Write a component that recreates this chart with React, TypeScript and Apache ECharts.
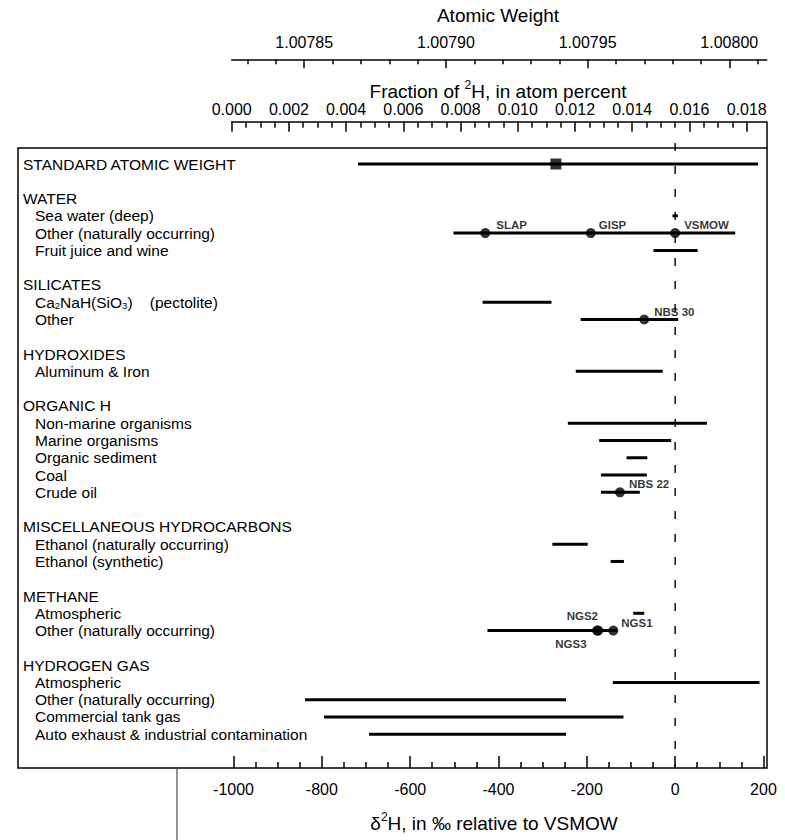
import React, { useEffect, useRef } from 'react';
import * as echarts from 'echarts';

// ---------- data ----------
const rowLabels = [
  'STANDARD ATOMIC WEIGHT', '',
  'WATER', 'Sea water (deep)', 'Other (naturally occurring)', 'Fruit juice and wine', '',
  'SILICATES', 'Ca_2NaH(SiO_3)    (pectolite)', 'Other', '',
  'HYDROXIDES', 'Aluminum & Iron', '',
  'ORGANIC H', 'Non-marine organisms', 'Marine organisms', 'Organic sediment', 'Coal', 'Crude oil', '',
  'MISCELLANEOUS HYDROCARBONS', 'Ethanol (naturally occurring)', 'Ethanol (synthetic)', '',
  'METHANE', 'Atmospheric', 'Other (naturally occurring)', '',
  'HYDROGEN GAS', 'Atmospheric', 'Other (naturally occurring)', 'Commercial tank gas',
  'Auto exhaust & industrial contamination',
];

// ranges in delta 2H (per mil vs VSMOW)
const rangeRow = [0, 3, 4, 5, 8, 9, 12, 15, 16, 17, 18, 19, 22, 23, 26, 27, 30, 31, 32, 33];
const rangeLow = [-718, -6, -502, -49, -436, -214, -225, -243, -172, -110, -168, -168, -278, -146, -95, -425, -141, -838, -795, -693];
const rangeHigh = [188, 6, 136, 51, -280, 7, -28, 72, -9, -63, -64, -80, -198, -116, -70, -131, 191, -247, -117, -247];

// reference materials
const refNames = ['SLAP', 'GISP', 'VSMOW', 'NBS 30', 'NBS 22', 'NGS2', 'NGS3', 'NGS1'];
const refRow = [4, 4, 4, 9, 19, 27, 27, 27];
const refDelta = [-430, -191, 0, -70, -125, -174, -177, -140];

// standard atomic weight marker
const stdRow = [0];
const stdDelta = [-270];

const vsmowLine = [0];

// axis ticks
const deltaMajor = [-1000, -800, -600, -400, -200, 0, 200];
const deltaMinor = [-950, -900, -850, -750, -700, -650, -550, -500, -450, -350, -300, -250, -150, -100, -50, 50, 100, 150];
const fracMajor = [0, 0.002, 0.004, 0.006, 0.008, 0.01, 0.012, 0.014, 0.016, 0.018];
const fracMinor = [0.0005, 0.001, 0.0015, 0.0025, 0.003, 0.0035, 0.0045, 0.005, 0.0055, 0.0065, 0.007, 0.0075,
  0.0085, 0.009, 0.0095, 0.0105, 0.011, 0.0115, 0.0125, 0.013, 0.0135, 0.0145, 0.015, 0.0155, 0.0165, 0.017, 0.0175];
const awMajor = [1.00785, 1.0079, 1.00795, 1.008];
const awMinor = [1.00783, 1.00784, 1.00786, 1.00787, 1.00788, 1.00789, 1.00791, 1.00792, 1.00793, 1.00794,
  1.00796, 1.00797, 1.00798, 1.00799, 1.00801];

// axis extents
const D_MIN = -1488;
const D_MAX = 208;
const FRAC_MIN = 0;
const FRAC_MAX = 0.0187;
const AW_MIN = 1.0078244;
const AW_MAX = 1.0080132;

// ---------- styles ----------
const FONT = '"Liberation Sans", Arial, Helvetica, sans-serif';
const BLACK = '#000';

const labelStyle: Record<string, any> = {
  'SLAP': { align: 'left', offset: [11, -8] },
  'GISP': { align: 'left', offset: [8, -8] },
  'VSMOW': { align: 'left', offset: [9, -8] },
  'NBS 30': { align: 'left', offset: [10, -8] },
  'NBS 22': { align: 'left', offset: [9, -8] },
  'NGS1': { align: 'left', offset: [8, -8] },
  'NGS2': { align: 'center', offset: [-16, -15] },
  'NGS3': { align: 'center', offset: [-26, 13] },
};

const isHeader = (s: string) => s !== '' && /[A-Z]/.test(s) && s === s.toUpperCase();

function toRich(label: string): string {
  if (!label) return '';
  const base = isHeader(label) ? 'h' : 's';
  const parts = label.split(/_(\d)/);
  let out = '';
  parts.forEach((p, i) => {
    if (p === '') return;
    if (i % 2 === 1) {
      out += `{sub|${p}}`;
    } else if (i === 0) {
      out += `{${base}|${p}}`;
    } else if (/^\s{2,}/.test(p)) {
      out += `{tg|${p.trim()}}`;
    } else {
      out += `{t|${p}}`;
    }
  });
  return out;
}

const catFont = { fontSize: 15.5, fontFamily: FONT, color: '#000', lineHeight: 17 };

export default function App() {
  const ref = useRef<HTMLDivElement>(null);

  useEffect(() => {
    if (!ref.current) return;
    const chart = echarts.init(ref.current, undefined, { renderer: 'svg' });

    const tickLabel = { fontSize: 16, fontFamily: FONT, color: BLACK };

    const option: any = {
      animation: false,
      backgroundColor: '#fff',
      grid: [
        { left: 18, right: 18, top: 148, bottom: 72, show: true, borderColor: BLACK, borderWidth: 1.5,
          backgroundColor: 'transparent', outerBoundsMode: 'none' },
        { left: 18, right: 18, top: 155.36, bottom: 97.1, outerBoundsMode: 'none' },
        { left: 231.7, right: 18.3, top: 121.7, height: 20, outerBoundsMode: 'none' },
        { left: 231.7, right: 18.3, top: 59.3, height: 20, outerBoundsMode: 'none' },
      ],
      xAxis: [
        { gridIndex: 0, type: 'value', min: D_MIN, max: D_MAX, show: false },
        {
          gridIndex: 1, type: 'value', min: D_MIN, max: D_MAX, position: 'bottom', offset: 25.1,
          axisLine: { show: false, onZero: false },
          axisTick: { show: true, inside: true, length: 12, customValues: deltaMajor, lineStyle: { color: BLACK, width: 1.5 } },
          axisLabel: { show: true, customValues: deltaMajor, margin: 13, formatter: (v: number) => String(v), ...tickLabel },
          splitLine: { show: false },
        },
        {
          gridIndex: 1, type: 'value', min: D_MIN, max: D_MAX, position: 'bottom', offset: 25.1,
          axisLine: { show: false, onZero: false },
          axisTick: { show: true, inside: true, length: 6, customValues: deltaMinor, lineStyle: { color: BLACK, width: 1.5 } },
          axisLabel: { show: false },
          splitLine: { show: false },
        },
        {
          gridIndex: 2, type: 'value', min: FRAC_MIN, max: FRAC_MAX, position: 'top',
          axisLine: { show: true, onZero: false, lineStyle: { color: BLACK, width: 1.5 } },
          axisTick: { show: true, inside: true, length: 10, customValues: fracMajor, lineStyle: { color: BLACK, width: 1.5 } },
          axisLabel: { show: true, customValues: fracMajor, margin: 4.5, formatter: (v: number) => v.toFixed(3), ...tickLabel },
          splitLine: { show: false },
        },
        {
          gridIndex: 2, type: 'value', min: FRAC_MIN, max: FRAC_MAX, position: 'top',
          axisLine: { show: false, onZero: false },
          axisTick: { show: true, inside: true, length: 6, customValues: fracMinor, lineStyle: { color: BLACK, width: 1.5 } },
          axisLabel: { show: false },
          splitLine: { show: false },
        },
        {
          gridIndex: 3, type: 'value', min: AW_MIN, max: AW_MAX, position: 'top',
          axisLine: { show: true, onZero: false, lineStyle: { color: BLACK, width: 1.5 } },
          axisTick: { show: true, inside: true, length: 9, customValues: awMajor, lineStyle: { color: BLACK, width: 1.5 } },
          axisLabel: { show: true, customValues: awMajor, margin: 9, formatter: (v: number) => v.toFixed(5), ...tickLabel },
          splitLine: { show: false },
        },
        {
          gridIndex: 3, type: 'value', min: AW_MIN, max: AW_MAX, position: 'top',
          axisLine: { show: false, onZero: false },
          axisTick: { show: true, inside: true, length: 5, customValues: awMinor, lineStyle: { color: BLACK, width: 1.5 } },
          axisLabel: { show: false },
          splitLine: { show: false },
        },
      ],
      yAxis: [
        { gridIndex: 0, type: 'value', min: 0, max: 1, show: false },
        {
          gridIndex: 1, type: 'category', inverse: true, data: rowLabels, boundaryGap: true,
          axisLine: { show: false }, axisTick: { show: false }, splitLine: { show: false },
          axisLabel: {
            show: true, inside: true, interval: 0, margin: 5, align: 'left',
            formatter: (_v: string, idx: number) => toRich(rowLabels[idx]),
            rich: {
              h: { ...catFont },
              s: { ...catFont, padding: [0, 0, 0, 12] },
              t: { ...catFont },
              tg: { ...catFont, padding: [0, 0, 0, 17] },
              sub: { fontSize: 9.5, fontFamily: FONT, color: '#000', lineHeight: 5, padding: [7, 0, 0, 0] },
            },
          },
        },
        { gridIndex: 2, type: 'value', min: 0, max: 1, show: false },
        { gridIndex: 3, type: 'value', min: 0, max: 1, show: false },
      ],
      series: [
        {
          type: 'custom', xAxisIndex: 0, yAxisIndex: 0, silent: true, z: 1,
          data: vsmowLine.map((d) => [d, 0]),
          renderItem: (_p: any, api: any) => {
            const top = api.coord([api.value(0), 1]);
            const bot = api.coord([api.value(0), 0]);
            return {
              type: 'line',
              shape: { x1: top[0], y1: top[1] - 5, x2: bot[0], y2: bot[1] },
              style: { stroke: BLACK, lineWidth: 1.4, lineDash: [8, 15] },
            };
          },
        },
        {
          type: 'custom', xAxisIndex: 1, yAxisIndex: 1, silent: true, z: 2,
          encode: { x: [0, 1], y: 2 },
          data: rangeRow.map((r, i) => [rangeLow[i], rangeHigh[i], r]),
          renderItem: (_p: any, api: any) => {
            const a = api.coord([api.value(0), api.value(2)]);
            const b = api.coord([api.value(1), api.value(2)]);
            return {
              type: 'line',
              shape: { x1: a[0], y1: a[1], x2: b[0], y2: b[1] },
              style: { stroke: BLACK, lineWidth: 3 },
            };
          },
        },
        {
          type: 'scatter', xAxisIndex: 1, yAxisIndex: 1, z: 3, silent: true,
          symbol: 'circle', symbolSize: 10,
          itemStyle: { color: BLACK },
          data: refNames.map((n, i) => ({
            name: n,
            value: [refDelta[i], refRow[i]],
            label: {
              show: true, position: 'inside', formatter: n,
              fontSize: 11.5, fontWeight: 'bold', fontFamily: FONT, color: BLACK,
              verticalAlign: 'middle',
              ...labelStyle[n],
            },
          })),
        },
        {
          type: 'scatter', xAxisIndex: 1, yAxisIndex: 1, z: 3, silent: true,
          symbol: 'rect', symbolSize: 11,
          itemStyle: { color: BLACK },
          data: stdDelta.map((d, i) => [d, stdRow[i]]),
        },
      ],
      graphic: [
        {
          type: 'text', x: 498, y: 15,
          style: { text: 'Atomic Weight', fontSize: 19, fontFamily: FONT, fill: BLACK, align: 'center', verticalAlign: 'middle' },
        },
        {
          type: 'text', x: 498, y: 91,
          style: {
            text: '{t|Fraction of }{sup|2}{t|H, in atom percent}',
            align: 'center', verticalAlign: 'middle',
            rich: {
              t: { fontSize: 19, fontFamily: FONT, fill: BLACK, lineHeight: 24 },
              sup: { fontSize: 12, fontFamily: FONT, fill: BLACK, lineHeight: 12, verticalAlign: 'top' },
            },
          },
        },
        {
          type: 'text', x: 494, y: 823,
          style: {
            text: '{t|\u03b4}{sup|2}{t|H, in \u2030 relative to VSMOW}',
            align: 'center', verticalAlign: 'middle',
            rich: {
              t: { fontSize: 19, fontFamily: FONT, fill: BLACK, lineHeight: 24 },
              sup: { fontSize: 12, fontFamily: FONT, fill: BLACK, lineHeight: 12, verticalAlign: 'top' },
            },
          },
        },
        {
          type: 'line', silent: true,
          shape: { x1: 767, y1: 121.7, x2: 767, y2: 148 },
          style: { stroke: BLACK, lineWidth: 1.5 },
        },
        {
          type: 'line', silent: true,
          shape: { x1: 177, y1: 769, x2: 177, y2: 840 },
          style: { stroke: '#222', lineWidth: 1 },
        },
      ],
    };

    chart.setOption(option);
    return () => chart.dispose();
  }, []);

  return <div ref={ref} style={{ position: 'absolute', left: 0, top: 0, width: 785, height: 840 }} />;
}
